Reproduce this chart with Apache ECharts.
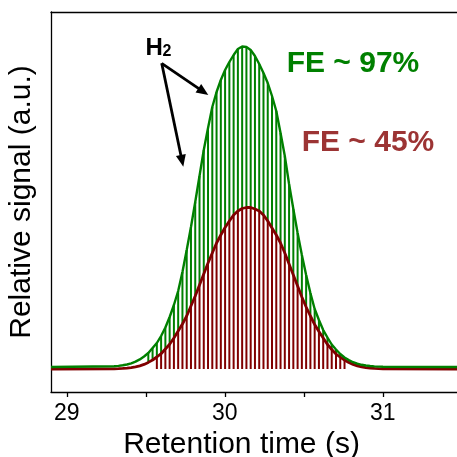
<!DOCTYPE html>
<html><head><meta charset="utf-8">
<script src="https://cdn.jsdelivr.net/npm/echarts@6/dist/echarts.min.js"></script>
<style>html,body{margin:0;padding:0;background:#fff}#c{width:457px;height:457px}</style>
</head><body><div id="c"></div>
<script>
// ---- data ----
const xRange = [28.9, 31.47];
const majorTicks = [29, 30, 31];
const allTicks = [29, 29.5, 30, 30.5, 31];
const sampleStart = 29.30;   // s, first sampled point
const sampleStep = 0.027;    // s, spacing of the sampled points (hatch lines)
// signal above baseline (a.u.), FE ~ 97 % run
const greenSignal = [0.8,1.1,1.7,2.5,3.7,5.4,7.6,10.5,14,19,24,31,39.5,50,62,76,95,117,140,165,191,217,239,260,275,287,297,305,312,318,320.5,320,317,311,303,294,284,271,256,234,211,183,158,134,112,92,74,58,47,37,29.5,22.5,17.5,13,9.5,7,4.8,3.3,2.2,1.5,1.0,0.6,0.4,0.2];
// signal above baseline (a.u.), FE ~ 45 % run
const redSignal = [0.2,0.35,0.55,0.95,1.4,2.1,3.2,4.6,6.6,9,12,15.3,20,24.7,31,38,45,53,63,73,84,95,106,116,126,134,141.5,148,154,158,160.5,161.5,161.5,160,158,154,148,141,134,126,116,105,94,83,72,62,53,44.5,37.5,31,24.5,19.5,15,11.8,9,6.5,4.6,3.2,2.1,1.4,0.9,0.55,0.35,0.2];
const greenBaseline = 0;
const redBaseline = -2;
// integrated (hatched) windows, s
const greenWindow = [29.49, 30.85];
const redWindow = [29.565, 30.78];
const greenLabel = 'FE ~ 97%';
const redLabel = 'FE ~ 45%';
const xName = 'Retention time (s)';
const yName = 'Relative signal (a.u.)';

// ---- build ----
const GREEN = '#008000', RED = '#800000', REDTXT = '#9c3434';
const FONT = '"Liberation Sans", Arial, sans-serif';
function build(sig, base) {
  const pts = [[xRange[0], base]];
  sig.forEach((v, i) => pts.push([+(sampleStart + i * sampleStep).toFixed(4), base + v]));
  pts.push([xRange[1], base]);
  return pts;
}
function hatchData(sig, base, win) {
  const out = [];
  sig.forEach((v, i) => {
    const t = +(sampleStart + i * sampleStep).toFixed(4);
    if (t >= win[0] && t <= win[1]) out.push([t, base + v]);
  });
  return out;
}
function hatch(base, color) {
  return function (params, api) {
    const t = api.value(0), v = api.value(1);
    const p1 = api.coord([t, base]), p2 = api.coord([t, v]);
    return { type: 'line', shape: { x1: p1[0], y1: p1[1], x2: p2[0], y2: p2[1] },
      style: { stroke: color, lineWidth: 2 } };
  };
}
function arrow(sx, sy, tx, ty) {
  const dx = tx - sx, dy = ty - sy, L = Math.hypot(dx, dy), ux = dx / L, uy = dy / L;
  const hl = 12, hw = 5, bx = tx - ux * hl, by = ty - uy * hl, px = -uy, py = ux;
  return [
    { type: 'line', shape: { x1: sx, y1: sy, x2: bx + ux, y2: by + uy }, style: { stroke: '#000', lineWidth: 2.8 } },
    { type: 'polygon', shape: { points: [[tx, ty], [bx + px * hw, by + py * hw], [bx - px * hw, by - py * hw]] }, style: { fill: '#000' } }
  ];
}

const chart = echarts.init(document.getElementById('c'), null, { renderer: 'canvas' });
chart.setOption({
  animation: false,
  backgroundColor: '#fff',
  grid: { left: 51, right: 0, top: 12, bottom: 65, containLabel: false, outerBoundsMode: 'none' },
  xAxis: [{
    type: 'value', min: xRange[0], max: xRange[1], position: 'bottom',
    axisLine: { show: true, onZero: false, lineStyle: { color: '#000', width: 1.3 } },
    axisTick: { show: true, customValues: allTicks, length: 5, lineStyle: { color: '#000', width: 1.3 } },
    axisLabel: { customValues: majorTicks, fontSize: 23, color: '#000', fontFamily: FONT, margin: 10 },
    splitLine: { show: false },
    name: xName, nameLocation: 'middle', nameGap: 32,
    nameTextStyle: { fontSize: 30, color: '#000', fontFamily: FONT, padding: [0, 25, 0, 0] }
  }, {
    type: 'value', min: xRange[0], max: xRange[1], position: 'top',
    axisLine: { show: true, onZero: false, lineStyle: { color: '#000', width: 1.3 } },
    axisTick: { show: false }, axisLabel: { show: false }, splitLine: { show: false }
  }],
  yAxis: {
    type: 'value', min: -25, max: 355,
    axisLine: { show: true, onZero: false, lineStyle: { color: '#000', width: 1.3 } },
    axisTick: { show: false }, axisLabel: { show: false }, splitLine: { show: false },
    name: yName, nameLocation: 'middle', nameGap: 14, nameRotate: 90,
    nameTextStyle: { fontSize: 30, color: '#000', fontFamily: FONT }
  },
  series: [
    { type: 'custom', name: 'green hatch', renderItem: hatch(greenBaseline, GREEN), data: hatchData(greenSignal, greenBaseline, greenWindow), z: 2, clip: true },
    { type: 'line', name: 'red fill', data: build(redSignal, redBaseline), showSymbol: false, z: 3,
      lineStyle: { width: 0, opacity: 0 }, areaStyle: { color: '#fff', opacity: 1, origin: redBaseline } },
    { type: 'custom', name: 'red hatch', renderItem: hatch(redBaseline, RED), data: hatchData(redSignal, redBaseline, redWindow), z: 4, clip: true },
    { type: 'line', name: 'FE ~ 45%', data: build(redSignal, redBaseline), showSymbol: false, z: 5,
      lineStyle: { color: RED, width: 2.8 } },
    { type: 'line', name: 'FE ~ 97%', data: build(greenSignal, greenBaseline), showSymbol: false, z: 6,
      lineStyle: { color: GREEN, width: 2.4 } }
  ],
  graphic: [
    { type: 'text', x: 286.7, y: 64.2, style: { text: greenLabel, font: 'bold 30px ' + FONT, fill: GREEN, verticalAlign: 'middle' } },
    { type: 'text', x: 301.7, y: 142.5, style: { text: redLabel, font: 'bold 30px ' + FONT, fill: REDTXT, verticalAlign: 'middle' } },
    { type: 'text', x: 145.5, y: 48.5, style: { text: 'H', font: 'bold 24px ' + FONT, fill: '#000', verticalAlign: 'middle' } },
    { type: 'text', x: 162.5, y: 52, style: { text: '2', font: 'bold 16px ' + FONT, fill: '#000', verticalAlign: 'middle' } },
    ...arrow(161.7, 63.3, 208.3, 95),
    ...arrow(161.7, 63.3, 183.3, 166.7)
  ]
});
</script></body></html>
